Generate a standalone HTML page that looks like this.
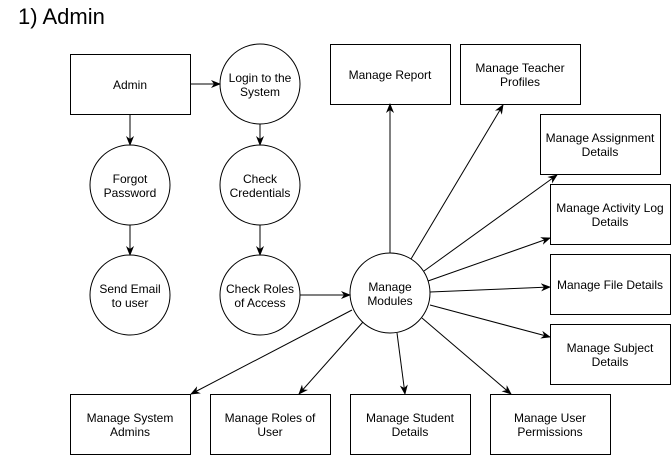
<!DOCTYPE html>
<html><head><style>body{margin:0;background:#fff}svg{display:block}</style></head><body>
<svg width="671" height="455" xmlns="http://www.w3.org/2000/svg" font-family="Liberation Sans, Arial, sans-serif">
<defs><marker id="a" markerWidth="10" markerHeight="10" refX="9" refY="5" orient="auto" markerUnits="userSpaceOnUse"><path d="M0,1 L10,5 L0,9 L3,5 z" fill="#000"/></marker></defs>
<rect width="671" height="455" fill="#fff"/>
<text x="18" y="24" font-size="22" fill="#000">1) Admin</text>
<g fill="#fff" stroke="#000" stroke-width="1">
<rect x="70.5" y="54.5" width="120" height="60"/>
<circle cx="260" cy="84" r="40"/>
<circle cx="130" cy="185" r="40"/>
<circle cx="130" cy="295" r="40"/>
<circle cx="260" cy="185" r="40"/>
<circle cx="260" cy="295" r="40"/>
<circle cx="390" cy="293" r="40"/>
<rect x="330.5" y="44.5" width="120" height="60"/>
<rect x="460.5" y="44.5" width="120" height="60"/>
<rect x="540.5" y="114.5" width="120" height="60"/>
<rect x="550.5" y="184.5" width="120" height="60"/>
<rect x="550.5" y="254.5" width="120" height="60"/>
<rect x="550.5" y="324.5" width="120" height="60"/>
<rect x="70.5" y="394.5" width="120" height="60"/>
<rect x="210.5" y="394.5" width="120" height="60"/>
<rect x="350.5" y="394.5" width="120" height="60"/>
<rect x="490.5" y="394.5" width="120" height="60"/>
</g>
<g stroke="#000" stroke-width="1" marker-end="url(#a)">
<line x1="190" y1="84" x2="220" y2="84"/>
<line x1="130" y1="114" x2="130" y2="145"/>
<line x1="130" y1="225" x2="130" y2="255"/>
<line x1="260" y1="124" x2="260" y2="145"/>
<line x1="260" y1="225" x2="260" y2="255"/>
<line x1="300" y1="295" x2="350" y2="295"/>
<line x1="390" y1="253" x2="390" y2="104"/>
<line x1="411" y1="259" x2="503" y2="105"/>
<line x1="424" y1="271" x2="557" y2="175"/>
<line x1="428" y1="281" x2="550" y2="238"/>
<line x1="430" y1="292" x2="550" y2="287"/>
<line x1="430" y1="305" x2="550" y2="337"/>
<line x1="352" y1="310" x2="191" y2="394"/>
<line x1="363" y1="322" x2="299" y2="394"/>
<line x1="397" y1="333" x2="405" y2="394"/>
<line x1="422" y1="318" x2="511" y2="394"/>
</g>
<g font-size="12" fill="#000" text-anchor="middle">
<text x="130" y="89">Admin</text>
<text x="260" y="82">Login to the</text><text x="260" y="96">System</text>
<text x="130" y="183">Forgot</text><text x="130" y="197">Password</text>
<text x="130" y="293">Send Email</text><text x="130" y="307">to user</text>
<text x="260" y="183">Check</text><text x="260" y="197">Credentials</text>
<text x="260" y="293">Check Roles</text><text x="260" y="307">of Access</text>
<text x="390" y="291">Manage</text><text x="390" y="305">Modules</text>
<text x="390" y="79">Manage Report</text>
<text x="520" y="72">Manage Teacher</text><text x="520" y="86">Profiles</text>
<text x="600" y="142">Manage Assignment</text><text x="600" y="156">Details</text>
<text x="610" y="212">Manage Activity Log</text><text x="610" y="226">Details</text>
<text x="610" y="289">Manage File Details</text>
<text x="610" y="352">Manage Subject</text><text x="610" y="366">Details</text>
<text x="130" y="422">Manage System</text><text x="130" y="436">Admins</text>
<text x="270" y="422">Manage Roles of</text><text x="270" y="436">User</text>
<text x="410" y="422">Manage Student</text><text x="410" y="436">Details</text>
<text x="550" y="422">Manage User</text><text x="550" y="436">Permissions</text>
</g>
</svg>
</body></html>
